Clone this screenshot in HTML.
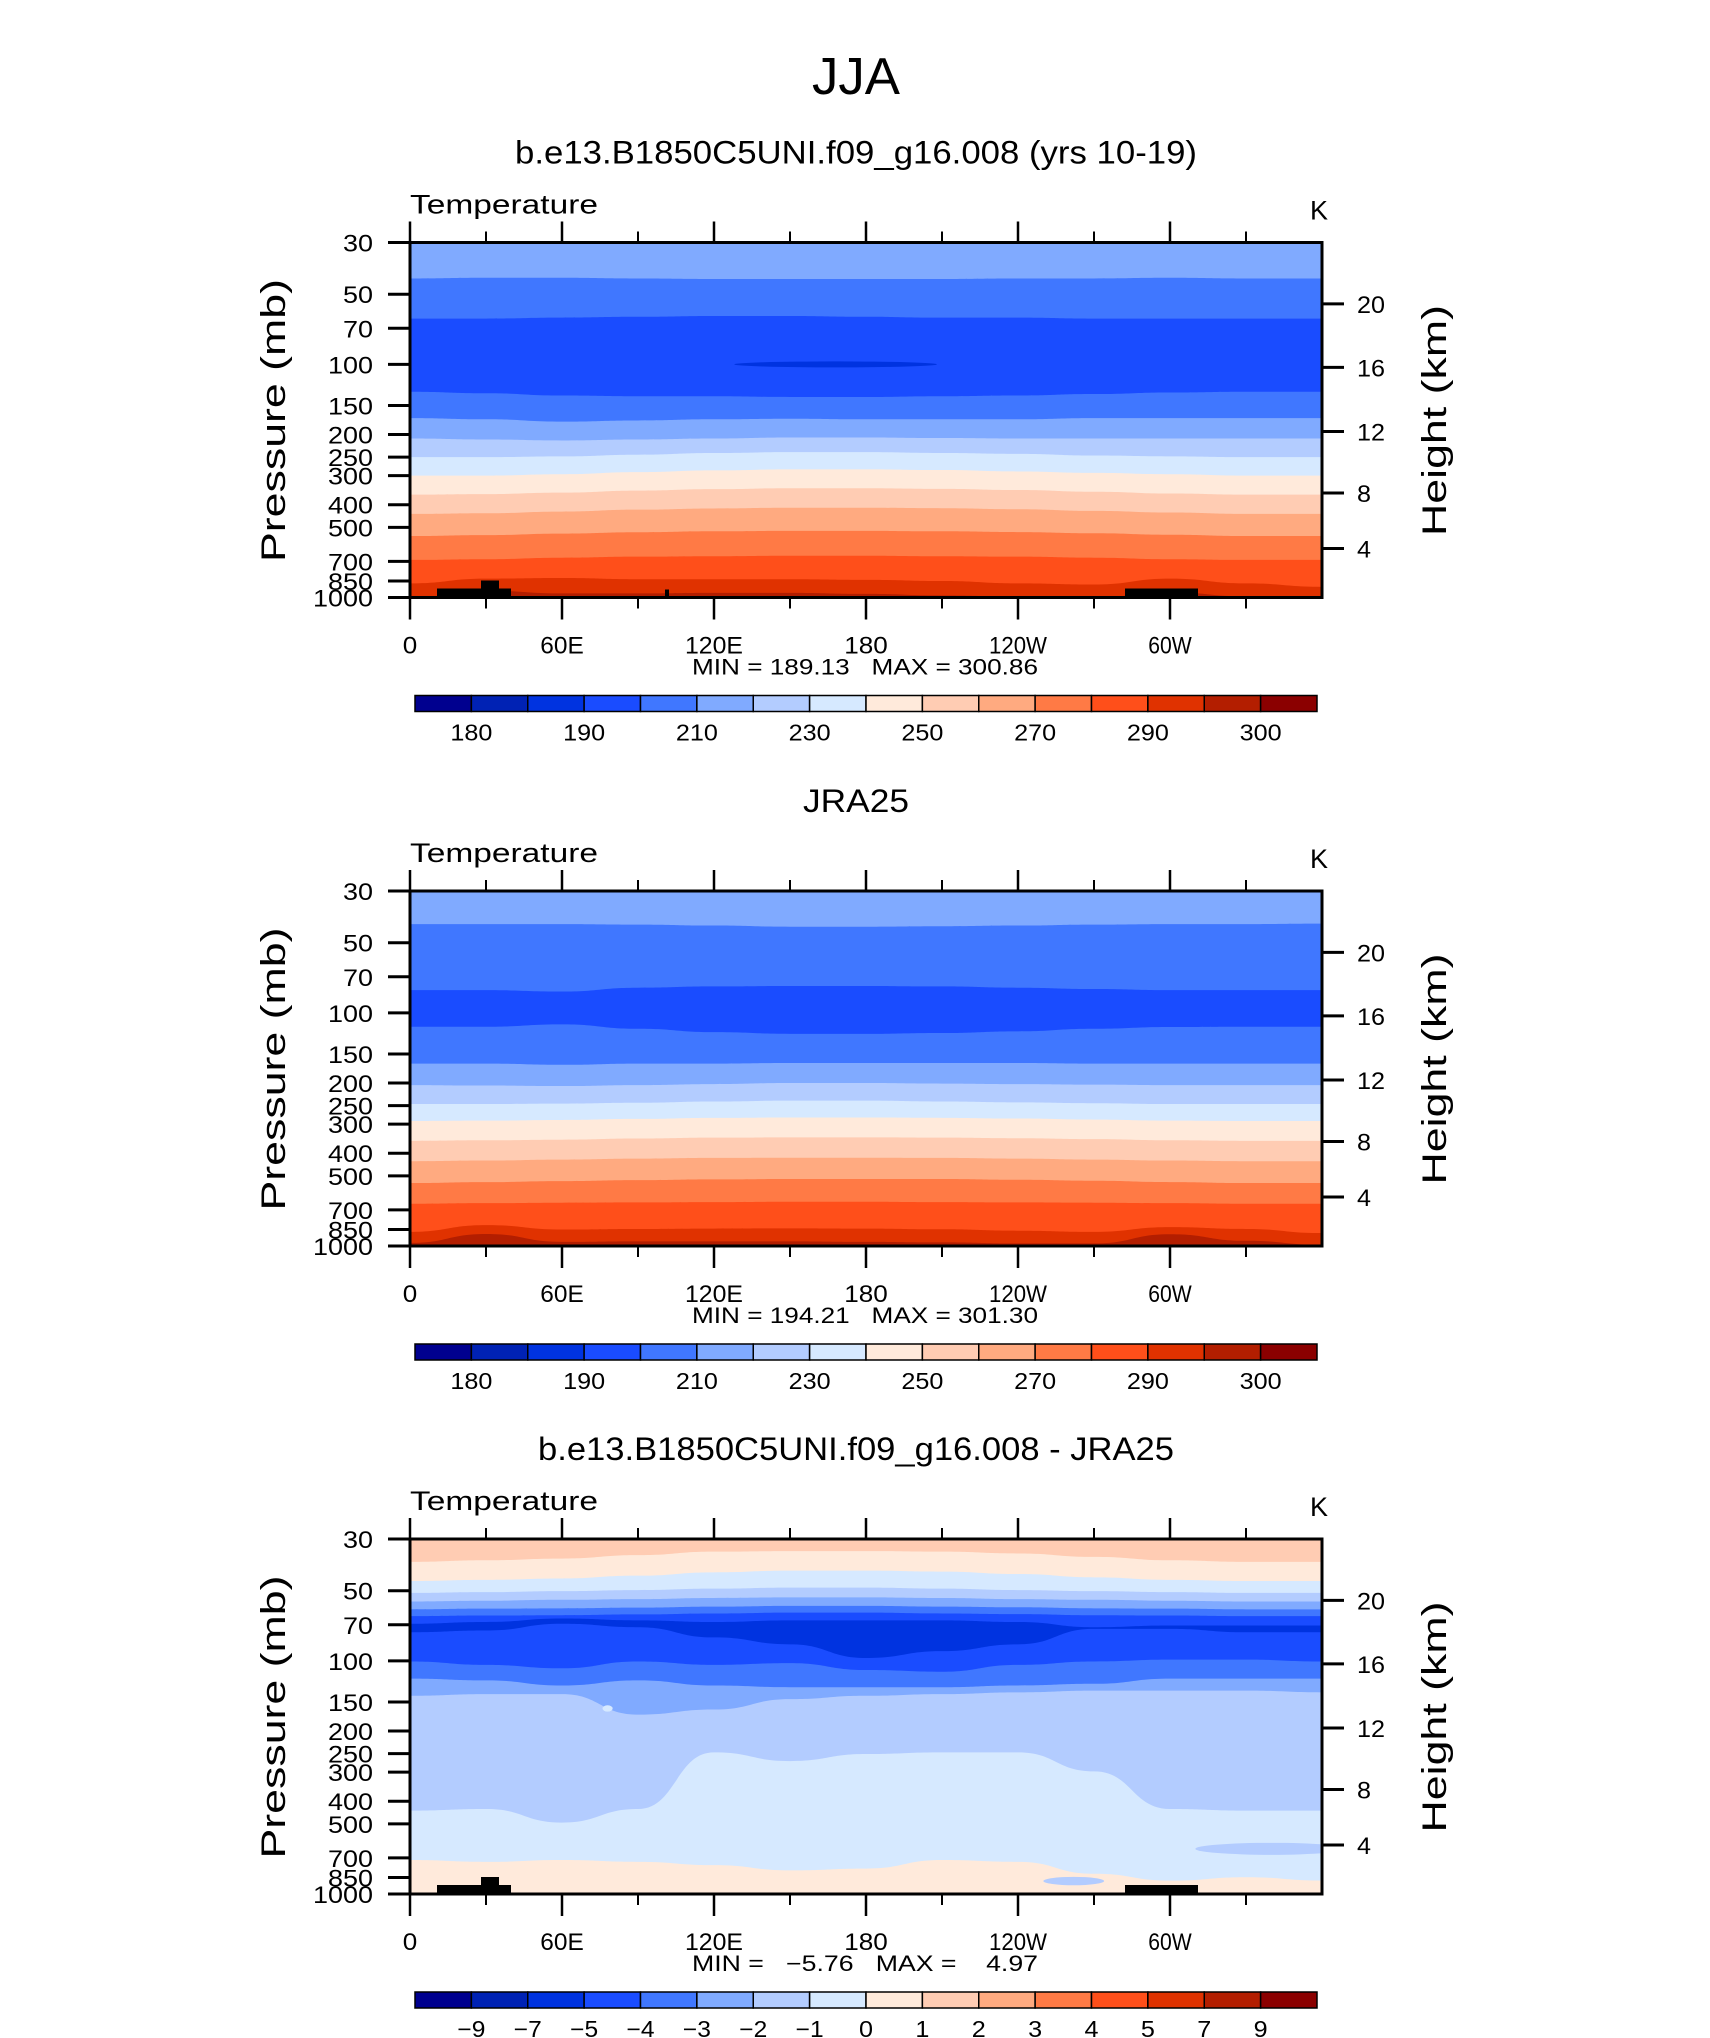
<!DOCTYPE html>
<html><head><meta charset="utf-8"><title>JJA Temperature</title>
<style>
html,body{margin:0;padding:0;background:#fff;}
svg{display:block;}
text{font-family:"Liberation Sans","DejaVu Sans",sans-serif;fill:#000;}
</style></head>
<body>
<svg id="fig" width="1710" height="2038" viewBox="0 0 1710 2038" xmlns="http://www.w3.org/2000/svg">
<text x="856" y="94" font-size="52" text-anchor="middle" textLength="88" lengthAdjust="spacingAndGlyphs">JJA</text>
</svg>
<script>
// ---------- shared data ----------
const lons = [0,30,60,90,120,150,180,210,240,270,300,330,360];
const colors = ["#00008f","#0022b4","#0033e0","#1a4cff","#4077ff","#80aaff","#b3ccff","#d6e9ff","#ffeadb","#ffccb3","#ffaa80","#ff7a45","#ff4f1a","#e03200","#b31e00","#8b0000"];
const tempLevels = [180,185,190,200,210,220,230,240,250,260,270,280,290,295,300];
const tempLabels = ["180","","190","","210","","230","","250","","270","","290","","300"];
const diffLevels = [-9,-7,-5,-4,-3,-2,-1,0,1,2,3,4,5,7,9];
const diffLabels = ["\u22129","\u22127","\u22125","\u22124","\u22123","\u22122","\u22121","0","1","2","3","4","5","7","9"];
const pTicks = [30,50,70,100,150,200,250,300,400,500,700,850,1000];
const hTicks = [20,16,12,8,4];
const hTickPressure = [55,103,194,356,616];
const xTickLons = [0,60,120,180,240,300];
const xTickLabels = ["0","60E","120E","180","120W","60W"];
const xMinorLons = [30,90,150,210,270,330];

// ---------- panel 1 (model) : contour boundary pressures per longitude ----------
const p1TopColor = 5;
const p1Bands = [4,3,4,5,6,7,8,9,10,11,12,13,14];
const p1B210a = [42.8,42.5,42.5,42.8,43,43,43,43,42.8,42.8,42.5,42.8,42.8];
const p1B200a = [63.6,63.6,63,62.5,62,62,62.5,63,63,63.6,63.6,63.6,63.6];
const p1B200b = [131,133,136,137,137,138,138,137,136,134,132,131,131];
const p1B210b = [170,172,176,174,172,171,172,172,172,170,170,170,170];
const p1B220 = [208,210,212,210,208,206,206,207,208,208,208,208,208];
const p1B230 = [250,250,248,244,240,238,238,240,242,246,248,250,250];
const p1B240 = [300,300,296,290,285,282,282,284,288,292,296,300,300];
const p1B250 = [362,360,355,348,343,340,340,342,346,352,358,362,362];
const p1B260 = [438,435,428,420,415,412,412,414,418,425,432,438,438];
const p1B270 = [545,540,532,525,520,518,518,520,524,530,538,545,545];
const p1B280 = [690,685,675,668,665,662,662,665,668,675,685,690,690];
const p1B290 = [870,830,825,835,835,835,840,850,870,880,830,870,900];
const p1B295 = [1000,935,960,960,955,955,965,980,990,1000,950,990,1000];
const p1BlobLon = [168]; const p1BlobP = [100]; const p1BlobDLon = [40]; const p1BlobColor = [2];

// ---------- panel 2 (JRA25) ----------
const p2TopColor = 5;
const p2Bands = [4,3,4,5,6,7,8,9,10,11,12,13,14];
const p2B210a = [41.6,41.6,41.6,41.8,42.2,42.7,42.7,42.5,42.2,41.8,41.6,41.6,41.4];
const p2B200a = [79.9,79.9,81,78,77,76.7,76.7,77,78,79,79.9,79.9,79.9];
const p2B200b = [114.7,114.7,112,117,121,123,123,122,120,117,115,114.7,114.7];
const p2B210b = [165,165,167,165,165,164,164,164,164,165,165,165,165];
const p2B220 = [204,205,206,204,202,200,200,201,202,203,204,204,204];
const p2B230 = [246,246,245,243,240,238,238,240,242,244,246,246,246];
const p2B240 = [291,290,288,285,282,281,281,282,284,287,290,291,291];
const p2B250 = [354,352,350,346,343,342,342,343,345,348,352,354,354];
const p2B260 = [433,430,426,422,419,418,418,419,422,426,430,433,433];
const p2B270 = [537,532,527,522,518,516,516,516,520,525,532,537,537];
const p2B280 = [659,655,652,650,648,646,646,648,650,652,655,659,659];
const p2B290 = [870,814,850,845,842,840,842,848,860,870,830,845,880];
const p2B295 = [970,888,960,955,955,955,960,965,975,975,890,950,990];

// ---------- panel 3 (difference) ----------
const p3TopColor = 9;
const p3Bands = [8,7,6,5,4,3,2,3,4,5,6,7,8];
const p3L1 = [37.6,37.0,36.4,35.2,34.0,33.8,33.8,34.0,34.6,35.8,37.0,37.6,37.6];
const p3L0 = [45.4,44.9,44.3,43.1,41.7,41.0,41.0,41.4,42.4,43.8,44.9,45.4,45.4];
const p3Lm1 = [51.1,50.7,50.2,49.7,49.0,48.5,48.5,49.0,49.7,50.2,50.7,51.1,51.1];
const p3Lm2 = [55.6,55.2,54.7,54.3,53.7,53.4,53.4,53.7,54.3,54.7,55.2,55.6,55.6];
const p3Lm3 = [60.1,59.7,59.5,59.1,58.5,58.1,58.1,58.5,58.9,59.5,59.7,60.1,60.1];
const p3Lm4 = [64.3,63.9,63.7,63.2,62.6,62.1,62.1,62.6,63.0,63.7,63.9,64.3,64.3];
const p3Lm5a = [69.3,68.1,65.8,67.0,68.1,67.0,67.0,67.0,68.1,71.7,70.5,70.5,70.5];
const p3Lm5b = [75.4,74.1,69.3,71.7,79.3,84.9,97.2,90.8,84.9,72.9,72.9,75.4,75.4];
const p3Lm4b = [100.6,104.0,107.6,100.6,104.0,102.2,109.4,111.3,104.0,100.6,98.8,98.8,100.6];
const p3Lm3b = [119.1,121.2,127.5,121.2,127.5,129.7,129.7,129.7,127.5,125.4,119.1,119.1,119.1];
const p3Lm2b = [141.1,138.8,138.8,170,161.6,145.9,141.1,138.8,136.4,134.1,134.1,134.1,136.4];
const p3Lm1b = [439,432,494,432,247,269,251,247,247,298,432,439,439];
const p3L0b = [715,728,715,728,752,792,778,715,728,819,876,847,876];
const p3BlobLon = [340,262,78]; const p3BlobP = [640,880,160]; const p3BlobDLon = [30,12,2]; const p3BlobColor = [6,6,7];

// ---------- layout ----------
const PL = 410, PR = 1322, PH = 355;
const panelTops = [242.5, 891, 1539];
const titles = ["b.e13.B1850C5UNI.f09_g16.008 (yrs 10-19)","JRA25","b.e13.B1850C5UNI.f09_g16.008 - JRA25"];
const titleLen = [682, 106, 636];
const minmax = ["MIN = 189.13   MAX = 300.86","MIN = 194.21   MAX = 301.30","MIN =   \u22125.76   MAX =    4.97"];

const svg = document.getElementById('fig');
const NS = "http://www.w3.org/2000/svg";
function mk(tag, attrs, parent){ const e=document.createElementNS(NS,tag); for(const k in attrs) e.setAttribute(k,attrs[k]); (parent||svg).appendChild(e); return e; }
function xS(lon){ return PL + lon/360*(PR-PL); }
function yS(p, top){ return top + Math.log(p/30)/Math.log(1000/30)*PH; }

function drawPanel(i, topColor, bounds, bands, blobs, terrain, isDiff){
  const top = panelTops[i], bot = top+PH;
  const g = mk('g', {});
  
  
  const cp = mk('clipPath', {id:'clip'+i}, g);
  mk('rect', {x:PL, y:top, width:PR-PL, height:PH}, cp);
  const fg = mk('g', {'clip-path':'url(#clip'+i+')'}, g);
  const bg = mk('rect', {x:PL, y:top, width:PR-PL, height:PH, fill:colors[topColor]}, fg);
  
  
  bounds.forEach((arr, k) => {
    let d = 'M'+xS(lons[0])+','+yS(arr[0],top);
    for (let j=1;j<lons.length;j++){
      const x0=xS(lons[j-1]), y0=yS(arr[j-1],top), x1=xS(lons[j]), y1=yS(arr[j],top);
      const mx=(x0+x1)/2;
      d += ' C'+mx+','+y0+' '+mx+','+y1+' '+x1+','+y1;
    }
    d += ' L'+PR+','+(bot+2)+' L'+PL+','+(bot+2)+' Z';
    const pth = mk('path', {d:d, fill:colors[bands[k]]}, fg);
    
    
  });
  if (blobs) blobs.lon.forEach((lo, k) => {
    const yc = yS(blobs.p[k], top);
    const e = mk('ellipse', {cx:xS(lo), cy:yc, rx:blobs.dlon[k]/360*(PR-PL), ry: isDiff ? (3 + blobs.dlon[k]*0.1) : 3, fill:colors[blobs.color[k]]}, fg);
    
    
  });
  if (terrain){
    const tg = mk('g', {fill:'#000'}, fg);
    
    
    mk('rect', {x:437, y:bot-9, width:74, height:10}, tg);
    mk('rect', {x:481, y:bot-17, width:18, height:18}, tg);
    mk('rect', {x:1125, y:bot-9, width:73, height:10}, tg);
    if (!isDiff) mk('rect', {x:665, y:bot-8, width:4, height:9}, tg);
  }
  const fr = mk('rect', {x:PL, y:top, width:PR-PL, height:PH, fill:'none', stroke:'#000', 'stroke-width':3}, g);
  
  
  xTickLons.forEach((lo, k) => {
    const x = xS(lo);
    mk('line', {x1:x, y1:top-21, x2:x, y2:top, stroke:'#000', 'stroke-width':2.5}, g);
    mk('line', {x1:x, y1:bot, x2:x, y2:bot+22, stroke:'#000', 'stroke-width':2.5}, g);
    const t = mk('text', {x:x, y:bot+56, 'font-size':24, 'text-anchor':'middle', textLength: xTickLabels[k].length*14.5, lengthAdjust:'spacingAndGlyphs'}, g);
    t.textContent = xTickLabels[k];
    
    
  });
  xMinorLons.forEach(lo => {
    const x = xS(lo);
    mk('line', {x1:x, y1:top-11, x2:x, y2:top, stroke:'#000', 'stroke-width':2}, g);
    mk('line', {x1:x, y1:bot, x2:x, y2:bot+11, stroke:'#000', 'stroke-width':2}, g);
  });
  pTicks.forEach(p => {
    const y = yS(p, top);
    mk('line', {x1:388, y1:y, x2:PL, y2:y, stroke:'#000', 'stroke-width':3}, g);
    const s = String(p);
    const t = mk('text', {x:373, y:y+9, 'font-size':24, 'text-anchor':'end', textLength:s.length*15, lengthAdjust:'spacingAndGlyphs'}, g);
    t.textContent = s;
    
    
  });
  hTicks.forEach((h, k) => {
    const y = yS(hTickPressure[k], top);
    mk('line', {x1:PR, y1:y, x2:PR+22, y2:y, stroke:'#000', 'stroke-width':3}, g);
    const s = String(h);
    const t = mk('text', {x:1357, y:y+9, 'font-size':24, 'text-anchor':'start', textLength:s.length*14, lengthAdjust:'spacingAndGlyphs'}, g);
    t.textContent = s;
    
    
  });
  const tt = mk('text', {x:856, y:top-79, 'font-size':32, 'text-anchor':'middle', textLength:titleLen[i], lengthAdjust:'spacingAndGlyphs'}, g);
  tt.textContent = titles[i];
  
  
  const vt = mk('text', {x:410, y:top-29, 'font-size':27, textLength:188, lengthAdjust:'spacingAndGlyphs'}, g);
  vt.textContent = 'Temperature';
  
  
  const ku = mk('text', {x:1310, y:top-23, 'font-size':27}, g);
  ku.textContent = 'K';
  
  
  const yl = mk('text', {x:0, y:0, 'font-size':34, 'text-anchor':'middle', textLength:283, lengthAdjust:'spacingAndGlyphs', transform:'translate(285,'+(top+178)+') rotate(-90)'}, g);
  yl.textContent = 'Pressure (mb)';
  
  
  const hl = mk('text', {x:0, y:0, 'font-size':34, 'text-anchor':'middle', textLength:231, lengthAdjust:'spacingAndGlyphs', transform:'translate(1446,'+(top+178)+') rotate(-90)'}, g);
  hl.textContent = 'Height (km)';
  
  
  const mm = mk('text', {x:865, y:top+432, 'font-size':22, 'text-anchor':'middle', textLength:346, lengthAdjust:'spacingAndGlyphs', style:'white-space:pre'}, g);
  mm.textContent = minmax[i];
  
  
  const cb = mk('g', {}, g);
  
  
  const cx0 = 415, cw = 902, cy = top+453, ch = 16, bw = cw/16;
  colors.forEach((c, k) => {
    const r = mk('rect', {x:cx0+k*bw, y:cy, width:bw, height:ch, fill:c, stroke:'#000', 'stroke-width':1.5}, cb);
    
    
  });
  const labs = isDiff ? diffLabels : tempLabels;
  labs.forEach((s, k) => {
    if (!s) return;
    const t = mk('text', {x:cx0+(k+1)*bw, y:cy+45, 'font-size':23, 'text-anchor':'middle', textLength:s.length*14, lengthAdjust:'spacingAndGlyphs'}, cb);
    t.textContent = s;
    
    
  });
}

drawPanel(0, p1TopColor, [p1B210a,p1B200a,p1B200b,p1B210b,p1B220,p1B230,p1B240,p1B250,p1B260,p1B270,p1B280,p1B290,p1B295], p1Bands,
  {lon:p1BlobLon, p:p1BlobP, dlon:p1BlobDLon, color:p1BlobColor}, true, false);
drawPanel(1, p2TopColor, [p2B210a,p2B200a,p2B200b,p2B210b,p2B220,p2B230,p2B240,p2B250,p2B260,p2B270,p2B280,p2B290,p2B295], p2Bands,
  null, false, false);
drawPanel(2, p3TopColor, [p3L1,p3L0,p3Lm1,p3Lm2,p3Lm3,p3Lm4,p3Lm5a,p3Lm5b,p3Lm4b,p3Lm3b,p3Lm2b,p3Lm1b,p3L0b], p3Bands,
  {lon:p3BlobLon, p:p3BlobP, dlon:p3BlobDLon, color:p3BlobColor}, true, true);
</script>
</body></html>
